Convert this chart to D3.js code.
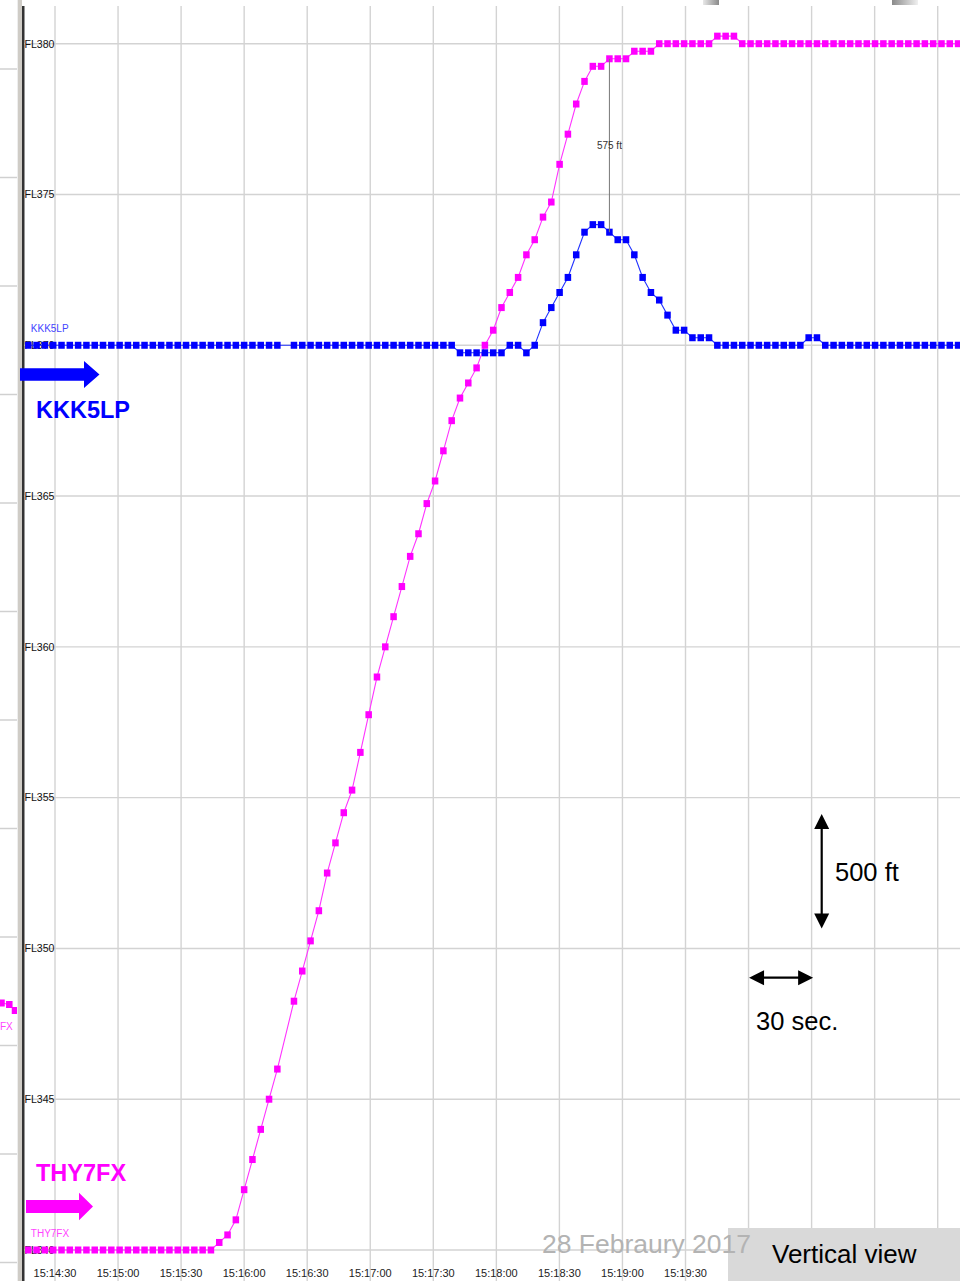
<!DOCTYPE html>
<html>
<head>
<meta charset="utf-8">
<script src="https://cdn.jsdelivr.net/npm/d3@7"></script>
<style>
  html, body { margin: 0; padding: 0; background: #fff; }
  svg { display: block; }
  text { font-family: Arial, "Liberation Sans", sans-serif; }
</style>
</head>
<body>
<svg id="chart" width="960" height="1281"></svg>
<script>
// ---------------- DATA ----------------
const dateLabel = "28 Febraury 2017";
const viewLabel = "Vertical view";
const flightLevels = [34000, 34500, 35000, 35500, 36000, 36500, 37000, 37500, 38000];
const timeTicks = ["15:14:30","15:15:00","15:15:30","15:16:00","15:16:30","15:17:00","15:17:30",
                   "15:18:00","15:18:30","15:19:00","15:19:30","15:20:00","15:20:30","15:21:00","15:21:30"];
const sampleStart = "15:14:17.3";   // first radar return
const sampleSec = 3.95;             // radar update interval (s)

// THY7FX altitude (ft) at each radar return (null = missed return)
const thy7fx = [
  34000,34000,34000,34000,34000,34000,34000,34000,34000,34000,
  34000,34000,34000,34000,34000,34000,34000,34000,34000,34000,
  34000,34000,34000,34025,34050,34100,34200,34300,34400,34500,
  34600,null,34825,34925,35025,35125,35250,35350,35450,35525,
  35650,35775,35900,36000,36100,36200,36300,36375,36475,36550,
  36650,36750,36825,36875,36925,37000,37050,37125,37175,37225,
  37300,37350,37425,37475,37600,37700,37800,37875,37925,37925,
  37950,37950,37950,37975,37975,37975,38000,38000,38000,38000,
  38000,38000,38000,38025,38025,38025,38000,38000,38000,38000,
  38000,38000,38000,38000,38000,38000,38000,38000,38000,38000,
  38000,38000,38000,38000,38000,38000,38000,38000,38000,38000,
  38000,38000,38000
];
// KKK5LP altitude (ft)
const kkk5lp = [
  37000,37000,37000,37000,37000,37000,37000,37000,37000,37000,
  37000,37000,37000,37000,37000,37000,37000,37000,37000,37000,
  37000,37000,37000,37000,37000,37000,37000,37000,37000,37000,
  37000,null,37000,37000,37000,37000,37000,37000,37000,37000,
  37000,37000,37000,37000,37000,37000,37000,37000,37000,37000,
  37000,37000,36975,36975,36975,36975,36975,36975,37000,37000,
  36975,37000,37075,37125,37175,37225,37300,37375,37400,37400,
  37375,37350,37350,37300,37225,37175,37150,37100,37050,37050,
  37025,37025,37025,37000,37000,37000,37000,37000,37000,37000,
  37000,37000,37000,37000,37025,37025,37000,37000,37000,37000,
  37000,37000,37000,37000,37000,37000,37000,37000,37000,37000,
  37000,37000,37000
];
const series = [
  { name: "THY7FX", values: thy7fx, color: "#ff00ff", line: "#ff33ff", small: "#ff44ff" },
  { name: "KKK5LP", values: kkk5lp, color: "#0000ff", line: "#2233ff", small: "#4444ff" }
];
const separationIndex = 70;   // where the separation was measured

// ---------------- SCALES ----------------
const parseT = s => {
  const [h, m, sec] = s.split(":");
  return new Date(2017, 1, 28, +h, +m, 0, Math.round(parseFloat(sec) * 1000));
};
const svg = d3.select("#chart");
const W = 960, H = 1281;
const plotLeft = 24, plotTop = 6;

const x = d3.scaleTime()
  .domain([parseT("15:14:30"), parseT("15:21:30")])
  .range([55, 937.7]);
const y = d3.scaleLinear()
  .domain([34000, 38000])
  .range([1250, 43.7]);

const t0 = parseT(sampleStart);
const timeAt = i => new Date(t0.getTime() + i * sampleSec * 1000);

// ---------------- BACKGROUND / LEFT STRIP ----------------
svg.append("rect").attr("width", W).attr("height", H).attr("fill", "#fff");

const defs = svg.append("defs");
const g1 = defs.append("linearGradient").attr("id", "gr1");
g1.append("stop").attr("offset", "0%").attr("stop-color", "#e8e8e8");
g1.append("stop").attr("offset", "100%").attr("stop-color", "#8a8a8a");
const g2 = defs.append("linearGradient").attr("id", "gr2");
g2.append("stop").attr("offset", "0%").attr("stop-color", "#8a8a8a");
g2.append("stop").attr("offset", "100%").attr("stop-color", "#f0f0f0");
svg.append("rect").attr("x", 703).attr("y", 0).attr("width", 16).attr("height", 5).attr("fill", "url(#gr1)");
svg.append("rect").attr("x", 892).attr("y", 0).attr("width", 26).attr("height", 5).attr("fill", "url(#gr2)");

const strip = svg.append("g");
strip.append("clipPath").attr("id", "stripclip").append("rect")
  .attr("x", 0).attr("y", 0).attr("width", 17).attr("height", H);
const stripG = strip.append("g").attr("clip-path", "url(#stripclip)");
d3.range(0, 12).forEach(k => {
  stripG.append("line").attr("x1", 0).attr("x2", 17)
    .attr("y1", 69 + k * 108.5).attr("y2", 69 + k * 108.5)
    .attr("stroke", "#d0d0d0").attr("stroke-width", 1.5);
});
// fragment of the neighbouring panel
const frag = [[1.5, 1003], [9.3, 1004.5], [15, 1010.5]];
stripG.append("path").attr("d", d3.line()(frag)).attr("fill", "none").attr("stroke", "#ff33ff");
frag.forEach(p => stripG.append("rect").attr("x", p[0] - 3.25).attr("y", p[1] - 3.5)
  .attr("width", 6.5).attr("height", 7).attr("fill", "#ff00ff"));
svg.append("text").attr("x", 0).attr("y", 1030)
  .attr("font-size", 10).attr("fill", "#ff44ff").text("FX");

svg.append("rect").attr("x", 17).attr("y", 0).attr("width", 5).attr("height", H).attr("fill", "#cfccc6");
svg.append("rect").attr("x", 17).attr("y", 0).attr("width", 1).attr("height", H).attr("fill", "#eeeeee");
svg.append("rect").attr("x", 22).attr("y", plotTop).attr("width", 2.5).attr("height", H - plotTop).attr("fill", "#333");

// ---------------- GRID ----------------
const grid = svg.append("g");
timeTicks.forEach(tk => {
  const xx = x(parseT(tk));
  grid.append("line").attr("x1", xx).attr("x2", xx).attr("y1", plotTop).attr("y2", H)
    .attr("stroke", "#d3d3d3").attr("stroke-width", 1.4);
});
flightLevels.forEach(fl => {
  grid.append("line").attr("x1", plotLeft + 0.5).attr("x2", W).attr("y1", y(fl)).attr("y2", y(fl))
    .attr("stroke", "#d3d3d3").attr("stroke-width", 1.4);
});

// y labels
flightLevels.forEach(fl => {
  svg.append("text").attr("x", 24.5).attr("y", y(fl) + 3.8)
    .attr("font-size", 10.5).attr("fill", "#111")
    .attr("textLength", 30).attr("lengthAdjust", "spacingAndGlyphs")
    .text("FL" + fl / 100);
});

// x labels
timeTicks.forEach(tk => {
  const xx = x(parseT(tk));
  if (xx > 700) return;
  svg.append("text").attr("x", xx).attr("y", 1276.5).attr("text-anchor", "middle")
    .attr("font-size", 11).attr("fill", "#222").text(tk);
});

// ---------------- SERIES ----------------
series.forEach(s => {
  const pts = s.values.map((v, i) => ({ t: timeAt(i), v })).filter(d => d.v !== null);
  const line = d3.line().x(d => x(d.t)).y(d => y(d.v));
  svg.append("path").datum(pts).attr("d", line)
    .attr("fill", "none").attr("stroke", s.line).attr("stroke-width", 1.1);
  svg.append("g").selectAll("rect").data(pts).join("rect")
    .attr("x", d => x(d.t) - 3.25).attr("y", d => y(d.v) - 3.5)
    .attr("width", 6.5).attr("height", 7).attr("fill", s.color);
  // small callsign tag at first return
  svg.append("text").attr("x", x(pts[0].t) + 2.5).attr("y", y(pts[0].v) - 13)
    .attr("font-size", 10).attr("fill", s.small).text(s.name);
});

// separation marker
{
  const tt = timeAt(separationIndex);
  const a = thy7fx[separationIndex], b = kkk5lp[separationIndex];
  const xx = x(tt);
  svg.append("line").attr("x1", xx).attr("x2", xx).attr("y1", y(a)).attr("y2", y(b))
    .attr("stroke", "#777").attr("stroke-width", 1);
  svg.append("text").attr("x", xx).attr("y", (y(a) + y(b)) / 2 + 4)
    .attr("text-anchor", "middle").attr("font-size", 10).attr("fill", "#333")
    .text((a - b) + " ft");
}

// ---------------- BIG CALLSIGN LABELS + ARROWS ----------------
const arrow = (x0, x1, xh, yc, shaft, head) =>
  `M${x0},${yc - shaft / 2} L${xh},${yc - shaft / 2} L${xh},${yc - head / 2} L${x1},${yc} ` +
  `L${xh},${yc + head / 2} L${xh},${yc + shaft / 2} L${x0},${yc + shaft / 2} Z`;
svg.append("path").attr("d", arrow(20, 99.5, 84, 374.5, 12.5, 27)).attr("fill", "#0000ff");
svg.append("text").attr("x", 36).attr("y", 418.3).attr("font-size", 23.5).attr("font-weight", "bold")
  .attr("fill", "#0000ff").text("KKK5LP");
svg.append("path").attr("d", arrow(26, 93, 79, 1206.5, 13, 27.5)).attr("fill", "#ff00ff");
svg.append("text").attr("x", 36).attr("y", 1181).attr("font-size", 23.5).attr("font-weight", "bold")
  .attr("fill", "#ff00ff").text("THY7FX");

// ---------------- SCALE ANNOTATIONS ----------------
const dbl = (g, x1, y1, x2, y2) => {
  const ang = Math.atan2(y2 - y1, x2 - x1);
  const hl = 15, hw = 7.5;
  const head = (px, py, a) => {
    const bx = px - hl * Math.cos(a), by = py - hl * Math.sin(a);
    const nx = -Math.sin(a) * hw, ny = Math.cos(a) * hw;
    g.append("path").attr("d", `M${px},${py} L${bx + nx},${by + ny} L${bx - nx},${by - ny} Z`).attr("fill", "#000");
  };
  g.append("line").attr("x1", x1 + 10 * Math.cos(ang)).attr("y1", y1 + 10 * Math.sin(ang))
    .attr("x2", x2 - 10 * Math.cos(ang)).attr("y2", y2 - 10 * Math.sin(ang))
    .attr("stroke", "#000").attr("stroke-width", 2.2);
  head(x2, y2, ang);
  head(x1, y1, ang + Math.PI);
};
const ann = svg.append("g");
dbl(ann, 821.7, 814, 821.7, 928.5);
ann.append("text").attr("x", 835).attr("y", 881).attr("font-size", 25.5).attr("fill", "#000").text("500 ft");
dbl(ann, x(parseT("15:20:00")) + 0.5, 977.7, x(parseT("15:20:30")) + 1.5, 977.7);
ann.append("text").attr("x", 756).attr("y", 1030).attr("font-size", 25.5).attr("fill", "#000").text("30 sec.");

// ---------------- FOOTER ----------------
svg.append("rect").attr("x", 728).attr("y", 1228).attr("width", 232).attr("height", 53).attr("fill", "#d9d9d9");
svg.append("text").attr("x", 772).attr("y", 1263.3).attr("font-size", 26).attr("fill", "#000").text(viewLabel);
svg.append("text").attr("x", 542).attr("y", 1252.5).attr("font-size", 25).attr("fill", "#b3b3b3")
  .attr("textLength", 209).attr("lengthAdjust", "spacingAndGlyphs").text(dateLabel);
</script>
</body>
</html>
